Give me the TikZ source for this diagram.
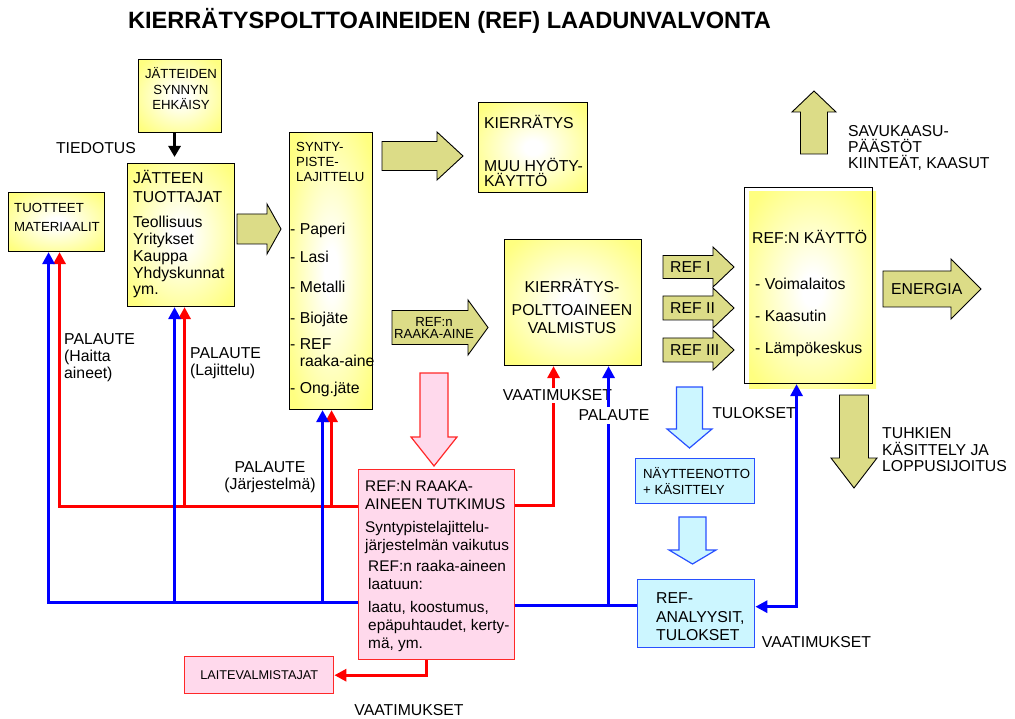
\documentclass[tikz,border=0pt]{standalone}
\usepackage{fontspec}
\setmainfont{Liberation Sans}
\usetikzlibrary{arrows.meta}
\definecolor{yel}{RGB}{255,255,128}
\definecolor{oliv}{RGB}{220,220,135}
\definecolor{lblue}{RGB}{204,246,255}
\definecolor{bblue}{RGB}{40,80,255}
\definecolor{lpink}{RGB}{255,217,236}
\definecolor{pred}{RGB}{255,40,40}
\definecolor{lnblue}{RGB}{0,0,255}
\definecolor{lnred}{RGB}{255,0,0}
\pgfdeclareradialshading{yelshade}{\pgfpoint{0bp}{0bp}}{color(0bp)=(white); color(4bp)=(white); color(32bp)=(yel); color(50bp)=(yel)}
\newcommand\fB{\fontsize{15.8}{17}\selectfont}
\newcommand\fS{\fontsize{13.2}{15.5}\selectfont}
\newcommand\fstrut{\rule{0pt}{1em}}
\newcommand\arrH[7][]{\filldraw[#1] (#2,{#4-#5}) -- (#7,{#4-#5}) -- (#7,{#4-#6}) -- (#3,#4) -- (#7,{#4+#6}) -- (#7,{#4+#5}) -- (#2,{#4+#5}) -- cycle;}
\newcommand\arrV[7][]{\filldraw[#1] ({#2-#5},#3) -- ({#2+#5},#3) -- ({#2+#5},#7) -- ({#2+#6},#7) -- (#2,#4) -- ({#2-#6},#7) -- ({#2-#5},#7) -- cycle;}
\tikzset{
  box/.style={inner sep=0pt, anchor=north west},
  ybox/.style={box, draw=black, line width=1.1pt, shading=yelshade},
  pbox/.style={box, draw=pred, line width=1.4pt, fill=lpink},
  bbox/.style={box, draw=bblue, line width=1.4pt, fill=lblue},
  oarr/.style={draw=black, line width=0.9pt, fill=oliv},
  barr/.style={draw=bblue, line width=1.2pt, fill=lblue},
  parr/.style={draw=pred, line width=1.2pt, fill=lpink},
  rline/.style={draw=lnred, line width=3pt},
  bline/.style={draw=lnblue, line width=3pt},
  tipend/.style={-{Triangle[length=12pt,width=12pt]}},
  tl/.style={inner sep=0pt, anchor=north west, align=left, font=\fB},
  tc/.style={inner sep=0pt, anchor=north, align=center, font=\fB},
  lb/.style={inner sep=0pt, anchor=base west, font=\fB},
  cb/.style={inner sep=0pt, anchor=base, font=\fB}
}
\begin{document}
\begin{tikzpicture}[x=1pt,y=-1pt]
\useasboundingbox (0,0) rectangle (1015,719);

% title
\node[cb, font=\fontsize{23.6}{26}\selectfont\bfseries] (title) at (449.5,28.5) {KIERRÄTYSPOLTTOAINEIDEN (REF) LAADUNVALVONTA};

% boxes
\node[ybox, minimum width=83pt, minimum height=73pt] (ehk) at (138,59) {};
\node[ybox, minimum width=96pt, minimum height=59pt] (tuot) at (8,192) {};
\node[ybox, minimum width=107pt, minimum height=143pt] (tuott) at (127,163) {};
\node[ybox, minimum width=83pt, minimum height=277pt] (synty) at (289,132) {};
\node[ybox, minimum width=109pt, minimum height=90pt] (kierr) at (478,102) {};
\node[ybox, minimum width=137pt, minimum height=126pt] (valm) at (504,239) {};
\shade[shading=yelshade] (749,192) rectangle (876,388);
\node[box, draw=black, line width=1.1pt, minimum width=128pt, minimum height=196pt] (kaytto) at (744,187) {};
\node[pbox, minimum width=156pt, minimum height=190pt] (tutk) at (358,469) {};
\node[bbox, minimum width=119pt, minimum height=45pt] (nayte) at (635,458) {};
\node[bbox, minimum width=117pt, minimum height=68pt] (ana) at (637,579) {};
\node[pbox, minimum width=149pt, minimum height=37pt, font=\fontsize{12.7}{14}\selectfont] (laite) at (184,656) {LAITEVALMISTAJAT};

% block arrows
\arrH[oarr]{237}{281}{229}{15}{25}{267}
\arrH[oarr]{382}{463}{156}{14.5}{24}{437}
\arrH[oarr]{392}{488}{327.5}{17}{27.5}{468}
\arrH[oarr]{663}{734}{267}{11.5}{20}{713}
\arrH[oarr]{663}{734}{308}{12}{20}{713}
\arrH[oarr]{663}{734}{350}{12}{20}{713}
\arrH[oarr]{883}{981}{289}{18}{30}{951}
\arrV[oarr]{814}{154}{91}{13.5}{22}{112}
\arrV[oarr]{854}{395}{488}{14.5}{23}{458}
\arrV[parr]{434}{373}{466}{14}{23}{437}
\arrV[barr]{689.5}{387}{448}{13}{22.5}{429}
\arrV[barr]{692.5}{517}{564}{13.5}{23.5}{550}

% black arrow
\draw[line width=3pt, -{Triangle[length=11pt,width=12pt]}, shorten >=6pt] ([xshift=-5.5pt]ehk.south) -- ([xshift=-5.5pt]ehk.south |- tuott.north);

% feedback buses
\coordinate (rbus) at ([yshift=-37pt]tutk.north west);
\coordinate (bbus) at ([yshift=-133pt]tutk.north west);
\coordinate (rT) at ([xshift=3pt]tuot.south);
\coordinate (bT) at ([xshift=-8pt]tuot.south);
\coordinate (rJ) at ([xshift=3.5pt]tuott.south);
\coordinate (bJ) at ([xshift=-6.5pt]tuott.south);
\coordinate (rS) at ([xshift=0.5pt]synty.south);
\coordinate (bS) at ([xshift=-8.5pt]synty.south);
\draw[rline, tipend] (rbus) -| (rT);
\draw[rline, tipend] (rJ |- rbus) -- (rJ);
\draw[rline, tipend] (rS |- rbus) -- (rS);
\draw[bline, tipend] (bbus) -| (bT);
\draw[bline, tipend] (bJ |- bbus) -- (bJ);
\draw[bline, tipend] (bS |- bbus) -- (bS);

\coordinate (rV) at ([xshift=-19.5pt]valm.south);
\coordinate (bV) at ([xshift=35.5pt]valm.south);
\draw[rline, tipend] ([yshift=-36pt]tutk.north east) -| (rV);
\node[fill=white, inner sep=2pt, anchor=base, font=\fB] (tvaa) at (557.5,400.7) {VAATIMUKSET};
\coordinate (bbusR) at ([yshift=-136pt]tutk.north east);
\draw[bline] (bbusR) -- (bbusR -| ana.west);
\draw[bline, tipend] (bV |- bbusR) -- (bV);
\node[fill=white, inner sep=3pt, anchor=base, font=\fB] (tpal) at (614,420.7) {PALAUTE};
\draw[rline, tipend] ([xshift=-10pt]tutk.south) |- (laite.east);
\coordinate (bK) at ([xshift=-12pt]kaytto.south);
\coordinate (bA) at ([yshift=7pt]ana.east);
\draw[bline, {Triangle[length=12pt,width=12pt]}-{Triangle[length=12pt,width=12pt]}] (bA) -| (bK);

% texts
\node[tc, font=\fS] (tehk) at (181,65.6) {\fstrut JÄTTEIDEN\\SYNNYN\\EHKÄISY};
\node[cb] (ttied) at (96,153.6) {TIEDOTUS};
\node[tl, font=\fontsize{13.2}{19}\selectfont] (ttuot) at (14,199.6) {\fstrut TUOTTEET\\MATERIAALIT};
\node[tl, font=\fontsize{15.8}{19}\selectfont] (tjt1) at (133,168) {\fstrut JÄTTEEN\\TUOTTAJAT};
\node[tl, font=\fontsize{15.8}{16.75}\selectfont] (tjt2) at (133,212) {\fstrut Teollisuus\\Yritykset\\Kauppa\\Yhdyskunnat\\ym.};
\node[tl, font=\fontsize{13.2}{15}\selectfont] (tsy1) at (296,138.6) {\fstrut SYNTY-\\PISTE-\\LAJITTELU};
\node[tl, font=\fontsize{15.8}{17}\selectfont] (tsy2) at (290,218.9) {\fstrut - Paperi\\[11pt]- Lasi\\[13pt]- Metalli\\[14pt]- Biojäte\\[9pt]- REF\\\hspace{9.6pt}raaka-aine\\[10pt]- Ong.jäte};
\node[lb] (tki1) at (484,128.7) {KIERRÄTYS};
\node[tl, font=\fontsize{15.8}{15}\selectfont] (tki2) at (484,155.9) {\fstrut MUU HYÖTY-\\KÄYTTÖ};
\node[tc, font=\fontsize{13.2}{12}\selectfont] (trr) at (434,312.6) {\fstrut REF:n\\RAAKA-AINE};
\node[tc, font=\fontsize{15.8}{18}\selectfont] (tval) at (572,276.9) {\fstrut KIERRÄTYS-\\[5pt]POLTTOAINEEN\\VALMISTUS};
\node[lb] (tr1) at (670,272.7) {REF I};
\node[lb] (tr2) at (670,313.7) {REF II};
\node[lb] (tr3) at (670,355.7) {REF III};
\node[lb] (tk0) at (752,243.7) {REF:N KÄYTTÖ};
\node[tl, font=\fontsize{15.8}{32}\selectfont] (tk1) at (755,273.9) {\fstrut - Voimalaitos\\- Kaasutin\\- Lämpökeskus};
\node[tl, font=\fontsize{15.8}{16}\selectfont] (tsav) at (848,120.9) {\fstrut SAVUKAASU-\\PÄÄSTÖT\\KIINTEÄT, KAASUT};
\node[lb] (tene) at (891,294.7) {ENERGIA};
\node[tl, font=\fontsize{15.8}{16.5}\selectfont] (ttuh) at (882,422.9) {\fstrut TUHKIEN\\KÄSITTELY JA\\LOPPUSIJOITUS};
\node[tl, font=\fontsize{15.8}{17}\selectfont] (tpa1) at (64,328.9) {\fstrut PALAUTE\\(Haitta\\aineet)};
\node[tl, font=\fontsize{15.8}{17}\selectfont] (tpa2) at (190,342.9) {\fstrut PALAUTE\\(Lajittelu)};
\node[tc, font=\fontsize{15.8}{17}\selectfont] (tpa3) at (270,456.9) {\fstrut PALAUTE\\(Järjestelmä)};
\node[tl, font=\fontsize{15.4}{17.8}\selectfont] (ttut) at (365,476.1) {\fstrut REF:N RAAKA-\\AINEEN TUTKIMUS\\[5pt]Syntypistelajittelu-\\järjestelmän vaikutus\\[4pt]\hspace{3pt}REF:n raaka-aineen\\\hspace{3pt}laatuun:\\[5pt]\hspace{3pt}laatu, koostumus,\\\hspace{3pt}epäpuhtaudet, kerty-\\\hspace{3pt}mä, ym.};
\node[cb] (ttul) at (754,418.7) {TULOKSET};
\node[tl, font=\fontsize{13.2}{16}\selectfont] (tnay) at (643,464.6) {\fstrut NÄYTTEENOTTO\\+ KÄSITTELY};
\node[tl, font=\fontsize{15.8}{18.5}\selectfont] (tana) at (656,587.9) {\fstrut REF-\\ANALYYSIT,\\TULOKSET};
\node[cb] (tvaa2) at (816.5,647.7) {VAATIMUKSET};
\node[cb] (tvaa3) at (409,715.7) {VAATIMUKSET};
\end{tikzpicture}
\end{document}
